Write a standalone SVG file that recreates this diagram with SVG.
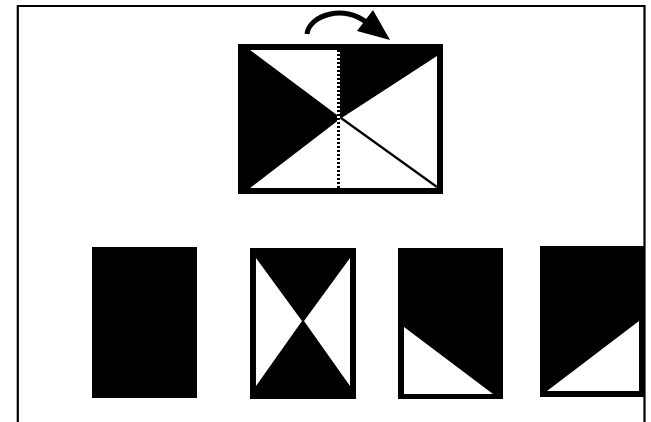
<svg xmlns="http://www.w3.org/2000/svg" width="651" height="422" viewBox="0 0 651 422">
<style>
.blk{fill:#000}
.wht{fill:#fff}
.frame{fill:none;stroke:#000;stroke-width:2.2}
</style>
<rect width="651" height="422" fill="#fff"/>
<g id="frame">
<path class="frame" d="M17.8,422 V6 H644.5 V422"/>
</g>
<g id="top-box">
<rect class="blk" x="238" y="44" width="205" height="150"/>
<polygon class="wht" points="250,50 337,50 337,115"/>
<polygon class="wht" points="250,188 340,119 437,56 437,188"/>
<line x1="341" y1="118" x2="437" y2="187" stroke="#000" stroke-width="2.2"/>
<line x1="338.5" y1="50" x2="338.5" y2="188" stroke="#fff" stroke-width="3"/>
<line x1="338.5" y1="50" x2="338.5" y2="188" stroke="#000" stroke-width="3" stroke-dasharray="2 2"/>
</g>
<g id="connectors">
<path d="M307,34 C309,15 345,4 367,23" fill="none" stroke="#000" stroke-width="5"/>
<polygon class="blk" points="373,10 390,40 357,31"/>
</g>
<g id="option-1">
<rect class="blk" x="92" y="247" width="105" height="151"/>
</g>
<g id="option-2">
<rect class="blk" x="250" y="248" width="106" height="151"/>
<polygon class="wht" points="256,258 256,386 302,321"/>
<polygon class="wht" points="350,258 350,386 304,321"/>
</g>
<g id="option-3">
<rect class="blk" x="398" y="248" width="105" height="151"/>
<polygon class="wht" points="404,327 404,394 493,394"/>
</g>
<g id="option-4">
<rect class="blk" x="540" y="246" width="104" height="151"/>
<polygon class="wht" points="547,391 639,391 639,321"/>
</g>
</svg>
